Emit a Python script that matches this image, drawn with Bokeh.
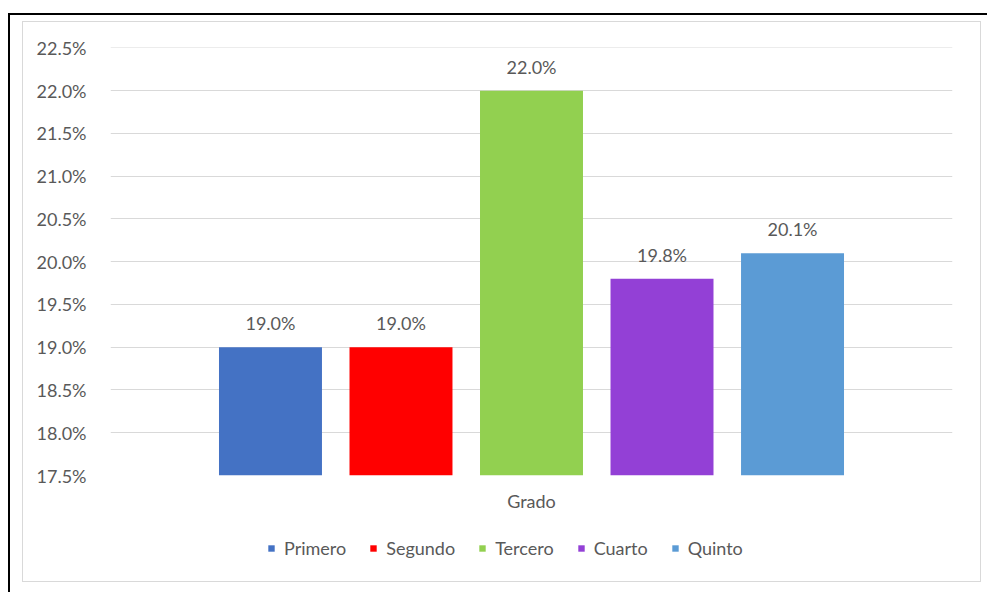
from bokeh.plotting import figure
from bokeh.layouts import column
from bokeh.models import (ColumnDataSource, Range1d, FactorRange, Legend, LegendItem,
                          NumeralTickFormatter, FixedTicker)
from bokeh.transform import dodge
from bokeh.core.properties import value
from bokeh.embed import file_html
from bokeh.resources import INLINE

# ---- data ----
category = ["Grado"]
series = ["Primero", "Segundo", "Tercero", "Cuarto", "Quinto"]
values = [0.190, 0.190, 0.220, 0.198, 0.201]
labels = ["19.0%", "19.0%", "22.0%", "19.8%", "20.1%"]
colors = ["#4472C4", "#FF0000", "#92D050", "#9340D6", "#5B9BD5"]
y_ticks = [0.175, 0.180, 0.185, 0.190, 0.195, 0.200, 0.205, 0.210, 0.215, 0.220, 0.225]

FONT = "Lato"
TXT = "#595959"
FS = "18px"

p = figure(frame_width=842, frame_height=428, x_range=FactorRange(*category, range_padding=0),
           y_range=Range1d(0.175, 0.22505), output_backend="svg", toolbar_location=None,
           min_border_left=87, min_border_right=28, min_border_top=25, min_border_bottom=40)
p.outline_line_color = None
p.background_fill_color = "white"
p.border_fill_color = "white"

pitch = 0.155
width = 0.1223
sources = []
for i, (s, v, lab, c) in enumerate(zip(series, values, labels, colors)):
    src = ColumnDataSource(dict(x=category, top=[v], lab=[lab]))
    sources.append(src)
    off = (i - 2) * pitch
    p.vbar(x=dodge("x", off, range=p.x_range), top="top", bottom=0.175, width=width,
           source=src, fill_color=c, line_color=None)
    p.text(x=dodge("x", off, range=p.x_range), y="top", text="lab", source=src,
           text_align="center", text_baseline="alphabetic", y_offset=-24,
           text_font=value(FONT), text_font_size=FS, text_color=TXT)

p.yaxis.ticker = FixedTicker(ticks=y_ticks)
p.yaxis.formatter = NumeralTickFormatter(format="0.0%")
p.yaxis.axis_line_color = None
p.yaxis.major_tick_line_color = None
p.yaxis.minor_tick_line_color = None
p.yaxis.major_label_text_font = FONT
p.yaxis.major_label_text_font_size = FS
p.yaxis.major_label_text_color = TXT
p.yaxis.major_label_standoff = 18

p.xaxis.axis_line_color = None
p.xaxis.major_tick_line_color = None
p.xaxis.major_label_text_font = FONT
p.xaxis.major_label_text_font_size = FS
p.xaxis.major_label_text_color = TXT
p.xaxis.major_label_standoff = 8

p.xgrid.grid_line_color = None
p.ygrid.grid_line_color = "#D9D9D9"
p.ygrid.grid_line_width = 1

# legend strip below the plot (renderers hidden, only used for legend glyphs)
lf = figure(width=957, height=66, x_range=FactorRange(*category), y_range=Range1d(0, 1),
            x_axis_type=None, y_axis_type=None, output_backend="svg", toolbar_location=None,
            min_border=0)
lf.outline_line_color = None
lf.grid.grid_line_color = None
lf.border_fill_color = "white"
items = []
for s, c, src in zip(series, colors, sources):
    r = lf.vbar(x="x", top="top", width=0.1, source=src,
                fill_color=c, line_color=None, visible=False)
    items.append(LegendItem(label=s, renderers=[r]))
legend = Legend(items=items, orientation="horizontal", location=(157, 22),
                label_text_font=FONT, label_text_font_size=FS, label_text_color=TXT,
                glyph_width=8, glyph_height=8, spacing=23, label_standoff=9,
                border_line_color=None, background_fill_alpha=0, padding=6,
                inactive_fill_alpha=0)
lf.add_layout(legend, "center")

layout = column(p, lf, spacing=0, margin=(22, 0, 0, 23),
                styles={"outline": "1.5px solid #D9D9D9",
                        "box-shadow": "17px 23px 0 30px white, 15px 21px 0 30px black"})

open("out.html", "w").write(file_html(layout, INLINE))
